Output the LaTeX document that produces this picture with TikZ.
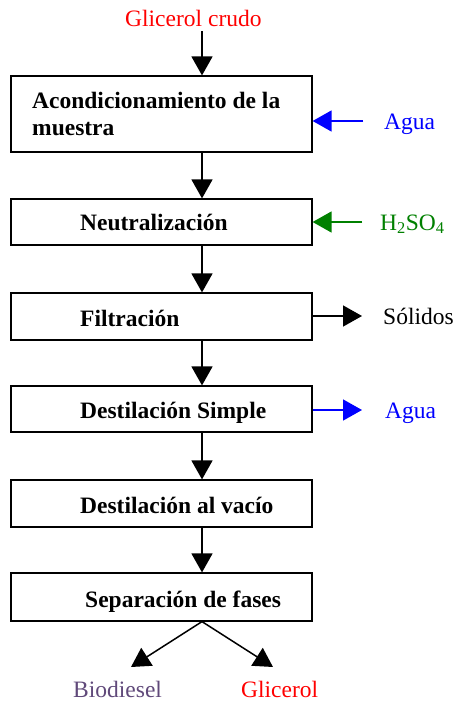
\documentclass[tikz,border=0pt]{standalone}
\usepackage{fontspec}
\setmainfont{Liberation Serif}
\usepackage{tikz}
\usetikzlibrary{arrows.meta,calc,positioning}

\definecolor{agua}{RGB}{0,0,255}
\definecolor{acido}{RGB}{0,128,0}
\definecolor{glic}{RGB}{255,0,0}
\definecolor{biod}{RGB}{96,73,122}

\tikzset{
  stepbox/.style={draw=black, line width=1.2pt, rectangle, minimum width=301pt, inner sep=0pt},
  steptext/.style={anchor=base west, inner sep=0pt, font=\fontsize{23.5}{27}\selectfont\bfseries},
  sidetext/.style={anchor=base west, inner sep=0pt, font=\fontsize{23.5}{27}\selectfont},
  flow/.style={line width=1.5pt, -{Triangle[width=21pt,length=19pt]}},
}

\begin{document}
\begin{tikzpicture}[x=1pt, y=-1pt]
    \useasboundingbox (0,0) rectangle (456,704);

    % process boxes: name/top/bottom
    \foreach \n/\t/\b in {b1/76/152, b2/199/245, b3/293/340, b4/386/432, b5/480/527, b6/573/621} {
      \node[stepbox, minimum height={(\b-\t)*1pt}] (\n) at (161.5, {(\t+\b)/2}) {};
    }
    \coordinate (ax) at (202,0);

    \node[steptext] (t1a) at (32,108) {Acondicionamiento de la};
    \node[steptext] (t1b) at (32,135) {muestra};
    \node[steptext] (t2) at (80,230) {Neutralización};
    \node[steptext] (t3) at (80,326) {Filtración};
    \node[steptext] (t4) at (80,418) {Destilación Simple};
    \node[steptext] (t5) at (80,513) {Destilación al vacío};
    \node[steptext] (t6) at (85,607) {Separación de fases};

    % main line
    \node[sidetext, text=glic] (crudo) at (125,26) {Glicerol crudo};
    \coordinate (in) at (202,31);
    \draw[flow] (in) -- (b1.north -| ax);
    \foreach \a/\b in {b1/b2, b2/b3, b3/b4, b4/b5, b5/b6} {
      \draw[flow] (\a.south -| ax) -- (\b.north -| ax);
    }

    % side streams
    \coordinate (s1) at (363,121);
    \coordinate (s2) at (362,222);
    \coordinate (s3) at (362,316);
    \coordinate (s4) at (362,410);
    \draw[flow, draw=agua, fill=agua] (s1) -- (b1.east |- s1);
    \draw[flow, draw=acido, fill=acido] (s2) -- (b2.east |- s2);
    \draw[flow] (b3.east |- s3) -- (s3);
    \draw[flow, draw=agua, fill=agua] (b4.east |- s4) -- (s4);

    \node[sidetext, text=agua] (agua1) at (384,129) {Agua};
    \node[sidetext, text=acido] (h2so4) at (380,230) {H\textsubscript{2}SO\textsubscript{4}};
    \node[sidetext] (solidos) at (383,324) {Sólidos};
    \node[sidetext, text=agua] (agua2) at (385,418) {Agua};

    % products
    \coordinate (p1) at (131,667);
    \coordinate (p2) at (273,667);
    \draw[flow] (b6.south -| ax) -- (p1);
    \draw[flow] (b6.south -| ax) -- (p2);
    \node[sidetext, text=biod] (biodiesel) at (73,697) {Biodiesel};
    \node[sidetext, text=glic] (glicerol) at (241,697) {Glicerol};

  \end{tikzpicture}
\end{document}
